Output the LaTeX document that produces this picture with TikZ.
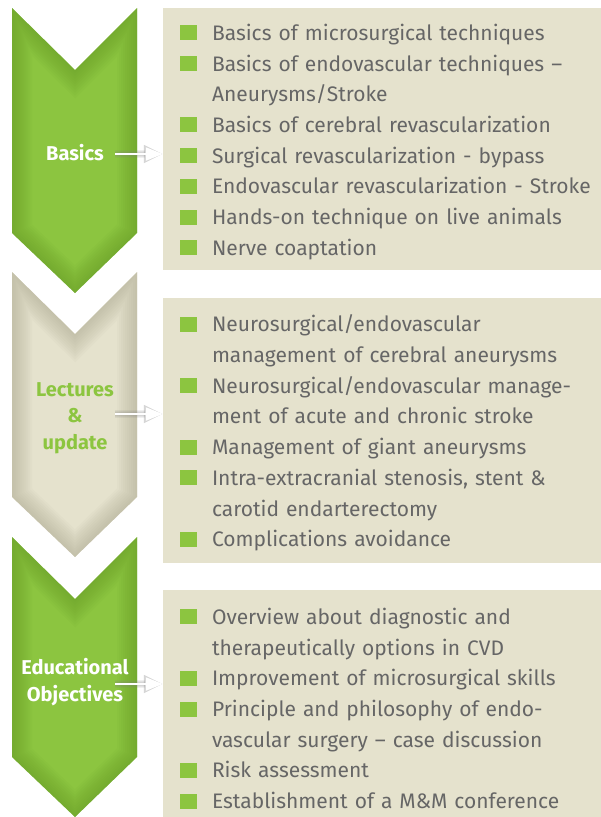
\documentclass[tikz,border=0pt]{standalone}
\usepackage{fontspec}
\setmainfont{Fira Sans}
\usetikzlibrary{arrows.meta}

\definecolor{leafgreen}{HTML}{8CC540}
\definecolor{leafdark}{HTML}{5E8F22}
\definecolor{sand}{HTML}{E5E2CD}
\definecolor{sanddark}{HTML}{A29E86}
\definecolor{listgray}{HTML}{666666}

% bullet and continuation line of the lists
\newcommand\bul{\makebox[32pt][l]{\textcolor{leafgreen}{\rule{17pt}{15pt}}}}
\newcommand\cnt{\hspace*{32pt}}
\newcommand\lift{\rule{0pt}{22pt}}

% chevron outline: top corners at #1, lower corners at #2
\newcommand\chevronpath[2]{(12,#1) -- (75,#1+62) -- (137,#1) -- (137,#2) -- (75,#2+60) -- (12,#2) -- cycle}
\newcommand\chevron[4]{%
    \fill[#1] \chevronpath{#3}{#4};
    \begin{scope}
        \clip \chevronpath{#3}{#4};
        \foreach \w in {40,36,...,4}
            \draw[#2, line width=\w pt, opacity=0.05] \chevronpath{#3}{#4};
    \end{scope}}

\begin{document}
\begin{tikzpicture}[
    x=1pt, y=-1pt,
    infobox/.style={rectangle, fill=sand, text width=421pt, inner xsep=17pt, inner ysep=0pt, align=left, text=listgray, font=\fontsize{21}{30.7}\selectfont},
    steplabel/.style={align=center, inner sep=0pt, font=\bfseries\fontsize{20}{26.5}\selectfont},
    glow/.style={-{Triangle[length=19pt,width=17pt]}, line width=#1, black!50, opacity=0.12},
    pointer/.style={-{Triangle[length=17pt,width=13pt]}, line width=2pt, white}
]
\useasboundingbox (0,0) rectangle (601,817);

% Chevrons (gauche)
\chevron{leafgreen}{leafdark}{8}{233}
\chevron{sand}{sanddark}{272}{497}
\chevron{leafgreen}{leafdark}{537}{757}

% Boites de contenu (droite), elles depassent a droite et en bas
\node[infobox, minimum height=262pt] (basicsbox) at (390.5,139) {
    \lift\bul Basics of microsurgical techniques\\
    \bul Basics of endovascular techniques --\\
    \cnt Aneurysms/Stroke\\
    \bul Basics of cerebral revascularization\\
    \bul Surgical revascularization - bypass\\
    \bul Endovascular revascularization - Stroke\\
    \bul Hands-on technique on live animals\\
    \bul Nerve coaptation
};

\node[infobox, minimum height=265pt] (lecturesbox) at (390.5,430.5) {
    \lift\bul Neurosurgical/endovascular\\
    \cnt management of cerebral aneurysms\\
    \bul Neurosurgical/endovascular manage-\\
    \cnt ment of acute and chronic stroke\\
    \bul Management of giant aneurysms\\
    \bul Intra-extracranial stenosis, stent \&\\
    \cnt carotid endarterectomy\\
    \bul Complications avoidance
};

\node[infobox, minimum height=237pt] (objectivesbox) at (390.5,708.5) {
    \bul Overview about diagnostic and\\
    \cnt therapeutically options in CVD\\
    \bul Improvement of microsurgical skills\\
    \bul Principle and philosophy of endo-\\
    \cnt vascular surgery -- case discussion\\
    \bul Risk assessment\\
    \bul Establishment of a M\&M conference
};

% Etiquettes des chevrons
\node[steplabel, text=white] (basics) at (75,153) {Basics};
\node[steplabel, text=leafgreen] (lectures) at (75,418) {Lectures\\\&\\update};
\node[steplabel, text=white] (objectives) at (75,682) {Educational\\Objectives};

% Fleches vers les boites
\coordinate (basicsarrow) at (115,154);
\coordinate (lecturesarrow) at (115,414);
\coordinate (objectivesarrow) at (115,684);
\foreach \a/\b in {basicsarrow/basicsbox, lecturesarrow/lecturesbox, objectivesarrow/objectivesbox} {
    \foreach \w in {8pt,6pt,4pt}
        \draw[glow=\w] (\a) -- (\a -| \b.west);
    \draw[pointer] (\a) -- (\a -| \b.west);
}

\end{tikzpicture}
\end{document}
